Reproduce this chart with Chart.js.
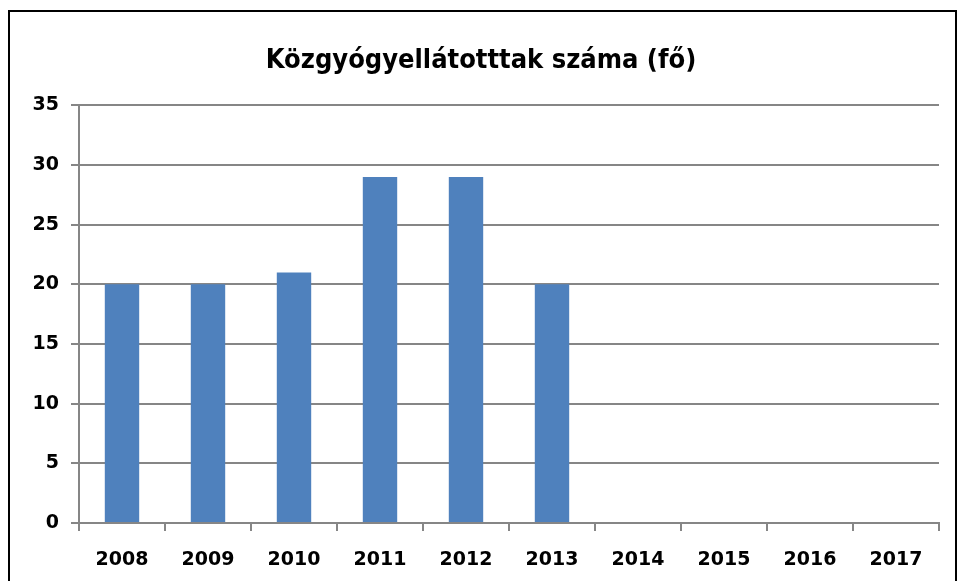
<!DOCTYPE html>
<html>
<head>
<meta charset="utf-8">
<script src="https://cdn.jsdelivr.net/npm/chart.js@4"></script>
<style>
  html, body { margin: 0; padding: 0; background: #fff; overflow: hidden; }
  #wrap { position: relative; width: 962px; height: 581px; }
  #frame { position: absolute; left: 8px; top: 10px; width: 949px; height: 620px; border: 2px solid #000; box-sizing: border-box; }
  canvas { position: absolute; left: 0; top: 0; }
</style>
</head>
<body>
<div id="wrap">
  <div id="frame"></div>
  <canvas id="chart" width="962" height="581"></canvas>
</div>
<script>
const years = ['2008', '2009', '2010', '2011', '2012', '2013', '2014', '2015', '2016', '2017'];
const counts = [20, 20, 21, 29, 29, 20, null, null, null, null];
const yTicks = [0, 5, 10, 15, 20, 25, 30, 35];

const axisFont = { family: 'DejaVu Sans', weight: 'bold', size: 19 };
const gridCol = '#868686';

new Chart(document.getElementById('chart'), {
  type: 'bar',
  data: {
    labels: years,
    datasets: [{
      label: 'Közgyógyellátotttak',
      data: counts,
      backgroundColor: '#4F81BD',
      barPercentage: 0.4,
      categoryPercentage: 1,
    }],
  },
  options: {
    responsive: false,
    animation: false,
    layout: { padding: 0 },
    plugins: {
      legend: { display: false },
      tooltip: { enabled: false },
      title: {
        display: true,
        text: 'Közgyógyellátotttak száma (fő)',
        color: '#000',
        font: { family: 'DejaVu Sans Condensed', weight: 'bold', size: 27 },
        padding: { top: 45, bottom: 28 },
      },
    },
    scales: {
      x: {
        offset: true,
        grid: { offset: true, drawOnChartArea: false, drawTicks: true, tickLength: 8, color: gridCol, lineWidth: 2 },
        border: { color: gridCol, width: 2 },
        ticks: { color: '#000', font: axisFont, padding: 18, maxRotation: 0 },
        afterFit: (s) => { s.height = 58; },
      },
      y: {
        min: 0,
        max: 35,
        afterBuildTicks: (s) => { s.ticks = yTicks.map((v) => ({ value: v })); },
        grid: { color: gridCol, lineWidth: 2, tickLength: 8 },
        border: { color: gridCol, width: 2 },
        ticks: { color: '#000', font: axisFont, padding: 12 },
        afterFit: (s) => { s.width = 79; },
      },
      // üres jobb oldali sáv, hogy a cím középre kerüljön
      y2: {
        position: 'right',
        min: 0,
        max: 35,
        grid: { display: false },
        border: { display: false },
        ticks: { display: false },
        afterFit: (s) => { s.width = 23; },
      },
    },
  },
});
</script>
</body>
</html>
